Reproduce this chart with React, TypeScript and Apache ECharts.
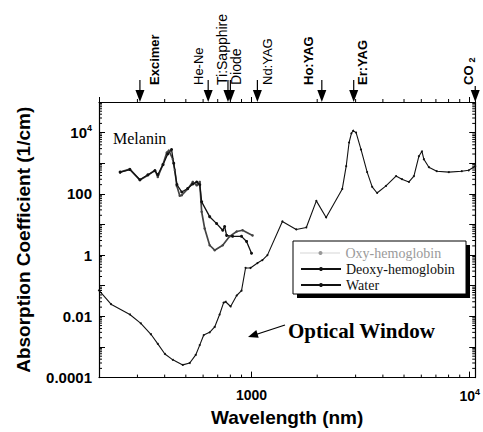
import React, { useEffect, useRef } from 'react';
import * as echarts from 'echarts';

// ---- data (wavelength nm, absorption coefficient 1/cm) ----
const waterData: [number, number][] = [
  [200, 0.07], [227, 0.025], [277, 0.0115], [311, 0.0059], [346, 0.0026], [372, 0.00126],
  [401, 0.00059], [436, 0.00038], [484, 0.00026], [521, 0.0003], [555, 0.00055], [579, 0.00115],
  [604, 0.00245], [643, 0.003], [678, 0.0045], [714, 0.0115], [745, 0.028], [761, 0.03],
  [802, 0.021], [855, 0.048], [900, 0.069], [939, 0.38], [989, 0.38], [1065, 0.55], [1122, 0.69],
  [1183, 1.0], [1385, 12.6], [1603, 6.9], [1783, 8.0], [1982, 59], [2198, 17], [2606, 145],
  [2716, 800], [2800, 4760], [2870, 9500], [2922, 11500], [3015, 10000], [3177, 2800], [3388, 513],
  [3573, 170], [3762, 107], [4133, 182], [4594, 380], [4891, 302], [5265, 245], [5550, 380],
  [5850, 1700], [6040, 2455], [6166, 1349], [6500, 741], [7060, 550], [8020, 513], [9190, 550],
  [9890, 589], [10600, 800],
];
const oxyData: [number, number][] = [
  [250, 513], [277, 645], [308, 282], [335, 407], [361, 589], [372, 355], [393, 933], [409, 2239],
  [418, 2600], [436, 1349], [445, 600], [455, 182], [469, 87], [479, 90], [510, 145], [538, 245],
  [561, 190], [579, 245], [591, 26], [610, 7.4], [643, 2.1], [678, 1.45], [738, 2.1], [794, 4.1],
  [855, 5.9], [910, 6.5], [1011, 4.4],
];
const deoxyData: [number, number][] = [
  [250, 513], [277, 620], [308, 290], [335, 420], [361, 570], [372, 420], [393, 900], [413, 2000],
  [430, 2800], [440, 1000], [455, 200], [479, 115], [510, 150], [538, 210], [561, 245], [579, 200],
  [591, 55], [643, 18], [692, 10.7], [738, 6.5], [753, 8.6], [769, 4.4], [819, 4.1], [900, 4.1],
  [949, 2.8], [1000, 1.15],
];
const seriesNames = ['Oxy-hemoglobin', 'Deoxy-hemoglobin', 'Water'];
const laserNames = ['Excimer', 'He-Ne', 'Ti:Sapphire', 'Diode', 'Nd:YAG', 'Ho:YAG', 'Er:YAG', 'CO2'];
const laserWavelengths = [308, 633, 780, 800, 1064, 2100, 2940, 10600];
const X_MIN = 200;
const X_MAX = 10600;
const Y_MIN = 1e-4;
const Y_MAX = 1e5;

// ---- layout / style (not data) ----
const laserLabelDx = [15, -9.5, -5.5, 6, 10, -13, 8.5, -7];
const laserBold = [true, false, false, false, false, true, true, true];
const laserFont = [13, 13, 14, 14, 13, 13, 13, 13];
const legendTops = [245, 261, 277];
const legendTextColors = ['#9a9a9a', '#111', '#111'];
const SANS = 'Liberation Sans, Arial, sans-serif';
const SERIF = 'Liberation Serif, Times New Roman, serif';

const decade = (v: number) => {
  const l = Math.log10(v);
  const e = Math.round(l);
  return Math.abs(l - e) < 1e-6 ? e : null;
};

const xFormatter = (v: number) => {
  const e = decade(v);
  if (e === 3) return '1000';
  if (e === 4) return '{n|10}{s|4}';
  return '';
};
const yFormatter = (v: number) => {
  const e = decade(v);
  if (e === null || e % 2 !== 0) return '';
  if (e === -4) return '0.0001';
  if (e === -2) return '0.01';
  if (e === 0) return '1';
  if (e === 2) return '100';
  if (e === 4) return '{n|10}{s|4}';
  return '';
};

export default function App() {
  const ref = useRef<HTMLDivElement>(null);
  useEffect(() => {
    if (!ref.current) return;
    const chart = echarts.init(ref.current, undefined, { renderer: 'svg' });
    const axisLine = { show: true, lineStyle: { color: '#000', width: 1.2 } };
    const richX = {
      n: { fontSize: 14, fontWeight: 'bold', fontFamily: SANS, color: '#000', lineHeight: 17 },
      s: { fontSize: 9, fontWeight: 'bold', fontFamily: SANS, color: '#000', verticalAlign: 'top', lineHeight: 9 },
    };
    const richY = {
      n: { fontSize: 15, fontWeight: 'bold', fontFamily: SANS, color: '#000', lineHeight: 18 },
      s: { fontSize: 9, fontWeight: 'bold', fontFamily: SANS, color: '#000', verticalAlign: 'top', lineHeight: 9 },
    };
    const legends = seriesNames.map((name, i) => ({
      orient: 'vertical',
      left: 300,
      top: legendTops[i],
      itemWidth: 40,
      itemHeight: 5,
      itemGap: 0,
      padding: 0,
      z: 6,
      textStyle: { fontFamily: SERIF, fontSize: 14, color: legendTextColors[i], lineHeight: 16 },
      data: [
        i === 0
          ? { name, lineStyle: { color: '#aaa', width: 1, type: 'dotted' }, itemStyle: { color: '#999' } }
          : { name },
      ],
    }));
    chart.setOption({
      animation: false,
      backgroundColor: '#fff',
      grid: { left: 99, top: 102, width: 378, height: 279 },
      legend: legends,
      xAxis: [
        {
          type: 'log', logBase: 10, min: X_MIN, max: X_MAX, position: 'bottom',
          axisLine, splitLine: { show: false },
          axisTick: { inside: true, length: 6, lineStyle: { color: '#000' } },
          axisLabel: {
            formatter: xFormatter, margin: 10, fontSize: 14, fontWeight: 'bold', fontFamily: SANS,
            color: '#000', rich: richX, showMinLabel: false, showMaxLabel: true,
          },
          name: 'Wavelength (nm)', nameLocation: 'middle', nameGap: 27,
          nameTextStyle: { fontSize: 19, fontWeight: 'bold', fontFamily: SANS, color: '#000' },
        },
        {
          type: 'log', logBase: 10, min: X_MIN, max: X_MAX, position: 'top',
          axisLine, splitLine: { show: false },
          axisTick: { inside: false, length: 5, lineStyle: { color: '#000' } },
          axisLabel: { show: false },
        },
      ],
      yAxis: [
        {
          type: 'log', logBase: 10, min: Y_MIN, max: Y_MAX, position: 'left',
          axisLine, splitLine: { show: false },
          axisTick: { inside: true, length: 6, lineStyle: { color: '#000' } },
          axisLabel: {
            formatter: yFormatter, margin: 7, fontSize: 15, fontWeight: 'bold', fontFamily: SANS,
            color: '#000', rich: richY,
          },
          name: 'Absorption Coefficient (1/cm)', nameLocation: 'middle', nameGap: 66, nameRotate: 90,
          nameTextStyle: { fontSize: 19, fontWeight: 'bold', fontFamily: SANS, color: '#000' },
        },
        {
          type: 'log', logBase: 10, min: Y_MIN, max: Y_MAX, position: 'right',
          axisLine, splitLine: { show: false },
          axisTick: { inside: true, length: 6, lineStyle: { color: '#000' } },
          axisLabel: { show: false },
        },
      ],
      series: [
        {
          type: 'line', name: seriesNames[0], data: oxyData, symbol: 'circle', symbolSize: 2.5,
          showSymbol: true, lineStyle: { color: '#444', width: 1.7 }, itemStyle: { color: '#444' }, z: 3,
        },
        {
          type: 'line', name: seriesNames[1], data: deoxyData, symbol: 'circle', symbolSize: 3,
          showSymbol: true, lineStyle: { color: '#111', width: 1.3 }, itemStyle: { color: '#111' }, z: 3,
        },
        {
          type: 'line', name: seriesNames[2], data: waterData, symbol: 'circle', symbolSize: 2,
          showSymbol: true, lineStyle: { color: '#111', width: 1.1 }, itemStyle: { color: '#111' }, z: 3,
        },
      ],
    });

    const px = (v: number) => chart.convertToPixel({ xAxisIndex: 0 } as any, v) as unknown as number;
    const py = (v: number) => chart.convertToPixel({ yAxisIndex: 0 } as any, v) as unknown as number;
    const L = px(X_MIN), R = px(X_MAX), B = py(Y_MIN), T = py(Y_MAX);
    const g: any[] = [];
    const tick = (x1: number, y1: number, x2: number, y2: number) =>
      g.push({ type: 'line', silent: true, z: 4, shape: { x1, y1, x2, y2 }, style: { stroke: '#000', lineWidth: 1 } });

    // minor ticks (2..9 per decade)
    for (let e = 2; e <= 4; e++) {
      for (let k = 2; k <= 9; k++) {
        const v = k * Math.pow(10, e);
        if (v <= X_MIN || v >= X_MAX) continue;
        const x = px(v);
        tick(x, B, x, B - 3);
        tick(x, T, x, T - 3);
      }
    }
    for (let e = -4; e <= 4; e++) {
      for (let k = 2; k <= 9; k++) {
        const v = k * Math.pow(10, e);
        if (v >= Y_MAX) continue;
        const y = py(v);
        tick(L, y, L + 3, y);
        tick(R, y, R - 3, y);
      }
    }

    // laser arrows and labels
    laserWavelengths.forEach((w, i) => {
      const x = px(w);
      const isCO2 = laserNames[i] === 'CO2';
      const start = isCO2 ? T - 16 : T - 22;
      g.push({ type: 'line', silent: true, z: 4, shape: { x1: x, y1: start, x2: x, y2: T - 8 }, style: { stroke: '#000', lineWidth: 1.2 } });
      g.push({ type: 'polygon', silent: true, z: 4, shape: { points: [[x - 4.5, T - 12], [x + 4.5, T - 12], [x, T]] }, style: { fill: '#000' } });
      g.push({
        type: 'text', silent: true, z: 4,
        x: x + laserLabelDx[i], y: T - 17, rotation: Math.PI / 2,
        style: isCO2
          ? {
              text: '{a|CO}{s|2}', align: 'left', verticalAlign: 'middle',
              rich: {
                a: { fontSize: 13, fontWeight: 'bold', fontFamily: SANS, fill: '#000', lineHeight: 16 },
                s: { fontSize: 9, fontWeight: 'bold', fontFamily: SANS, fill: '#000', verticalAlign: 'bottom', padding: [0, 0, 0, 3], lineHeight: 9 },
              },
            }
          : {
              text: laserNames[i], align: 'left', verticalAlign: 'middle', fill: '#000',
              fontSize: laserFont[i], fontWeight: laserBold[i] ? 'bold' : 'normal', fontFamily: SANS,
            },
      });
    });

    // legend box with hard shadow
    g.push({ type: 'rect', silent: true, z: 4, shape: { x: 297, y: 245, width: 173, height: 53 }, style: { fill: '#000' } });
    g.push({ type: 'rect', silent: true, z: 5, shape: { x: 293, y: 241, width: 173, height: 53 }, style: { fill: '#fff', stroke: '#000', lineWidth: 1 } });

    // annotations
    g.push({ type: 'text', silent: true, z: 4, x: 113, y: 138, style: { text: 'Melanin', fontFamily: SERIF, fontSize: 16, fill: '#000', verticalAlign: 'middle' } });
    g.push({ type: 'text', silent: true, z: 4, x: 288, y: 331, style: { text: 'Optical Window', fontFamily: SERIF, fontSize: 21, fontWeight: 'bold', fill: '#000', verticalAlign: 'middle' } });
    g.push({ type: 'line', silent: true, z: 4, shape: { x1: 285, y1: 325, x2: 256, y2: 334.5 }, style: { stroke: '#000', lineWidth: 1.3 } });
    g.push({ type: 'polygon', silent: true, z: 4, shape: { points: [[248, 337], [258.7, 337.7], [256.3, 330.1]] }, style: { fill: '#000' } });

    chart.setOption({ graphic: g });
    return () => chart.dispose();
  }, []);
  return (
    <div
      ref={ref}
      style={{ position: 'fixed', left: 0, top: 0, width: 483, height: 432, background: '#fff' }}
    />
  );
}
